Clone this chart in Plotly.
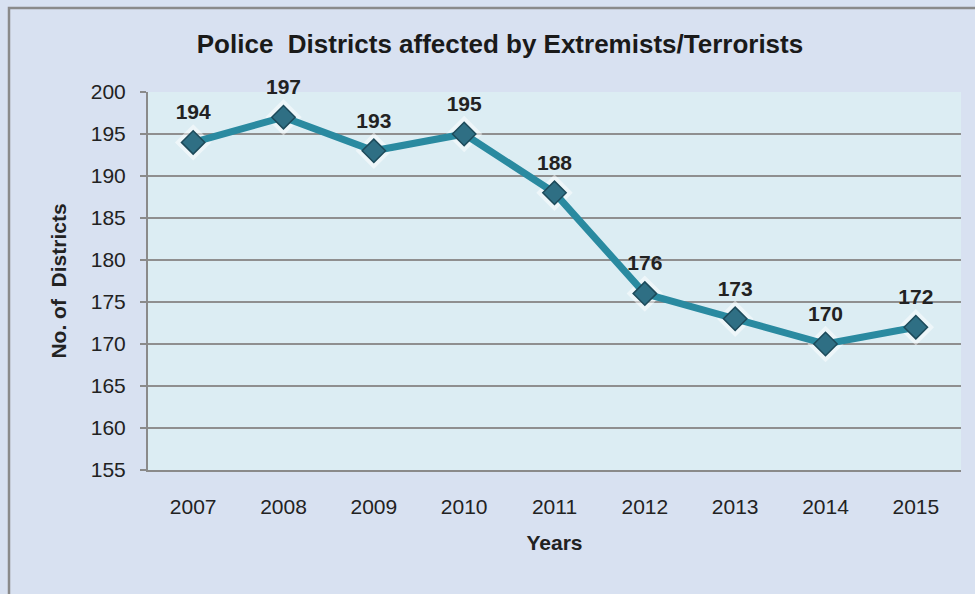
import plotly.graph_objects as go

years = ["2007", "2008", "2009", "2010", "2011", "2012", "2013", "2014", "2015"]
districts = [194, 197, 193, 195, 188, 176, 173, 170, 172]
y_ticks = [155, 160, 165, 170, 175, 180, 185, 190, 195, 200]

FONT = "Liberation Sans, Arial, sans-serif"
TEXT = "#222222"

fig = go.Figure()

# soft glow behind the markers
fig.add_trace(go.Scatter(
    x=years, y=districts, mode="markers",
    marker=dict(symbol="diamond", size=28, color="rgba(255,255,255,0.5)"),
    hoverinfo="skip", showlegend=False,
))

fig.add_trace(go.Scatter(
    x=years, y=districts, mode="lines+markers",
    line=dict(color="#2a8aa0", width=7),
    marker=dict(symbol="diamond", size=18, color="#2f6f84",
                line=dict(color="#1d4a5a", width=1.5)),
    showlegend=False,
))

# value labels above each point (invisible marker sets the gap)
fig.add_trace(go.Scatter(
    x=years, y=districts, mode="markers+text",
    text=["<b>%d</b>" % v for v in districts],
    textposition="top center",
    textfont=dict(family=FONT, size=21, color=TEXT),
    marker=dict(size=27, color="rgba(0,0,0,0)"),
    hoverinfo="skip", showlegend=False,
))

# outer frame (plot area is 813 x 378 px, starting at 148,92)
fig.add_shape(type="rect", xref="paper", yref="paper",
              x0=(9 - 148) / 813, x1=(978 - 148) / 813,
              y0=(470 - 598) / 378, y1=(470 - 8) / 378,
              line=dict(color="#8a8a8a", width=2.5), fillcolor="rgba(0,0,0,0)",
              layer="below")

fig.update_layout(
    width=975, height=594,
    margin=dict(l=148, r=14, t=92, b=124),
    paper_bgcolor="#d8e1f1",
    plot_bgcolor="#dcedf3",
    title=dict(text="<b>Police  Districts affected by Extremists/Terrorists</b>",
               x=500 / 975, xanchor="center", y=1 - 44 / 594, yanchor="middle",
               font=dict(family=FONT, size=26, color="#1a1a1a")),
    font=dict(family=FONT, color=TEXT),
)

fig.update_xaxes(
    type="category", range=[-0.5, 8.5],
    showgrid=False, showline=True, linecolor="#8a8a8a", linewidth=2,
    ticks="", tickfont=dict(size=21, color=TEXT),
    ticklabelstandoff=17,
    title=dict(text="<b>Years</b>", font=dict(size=21, color=TEXT), standoff=18),
)

fig.update_yaxes(
    range=[155, 200], tickvals=y_ticks,
    showgrid=True, gridcolor="#8f8f8f", gridwidth=2,
    showline=True, linecolor="#8a8a8a", linewidth=2,
    ticks="outside", ticklen=6, tickcolor="#8a8a8a", tickwidth=2,
    tickfont=dict(size=21, color=TEXT), ticklabelstandoff=10,
    zeroline=False,
    title=dict(text="<b>No. of  Districts</b>", font=dict(size=21, color=TEXT), standoff=18),
)

fig.update_traces(cliponaxis=False)

fig.write_html("out.html", config={"displayModeBar": False},
               post_script="document.body.style.margin='0';")
